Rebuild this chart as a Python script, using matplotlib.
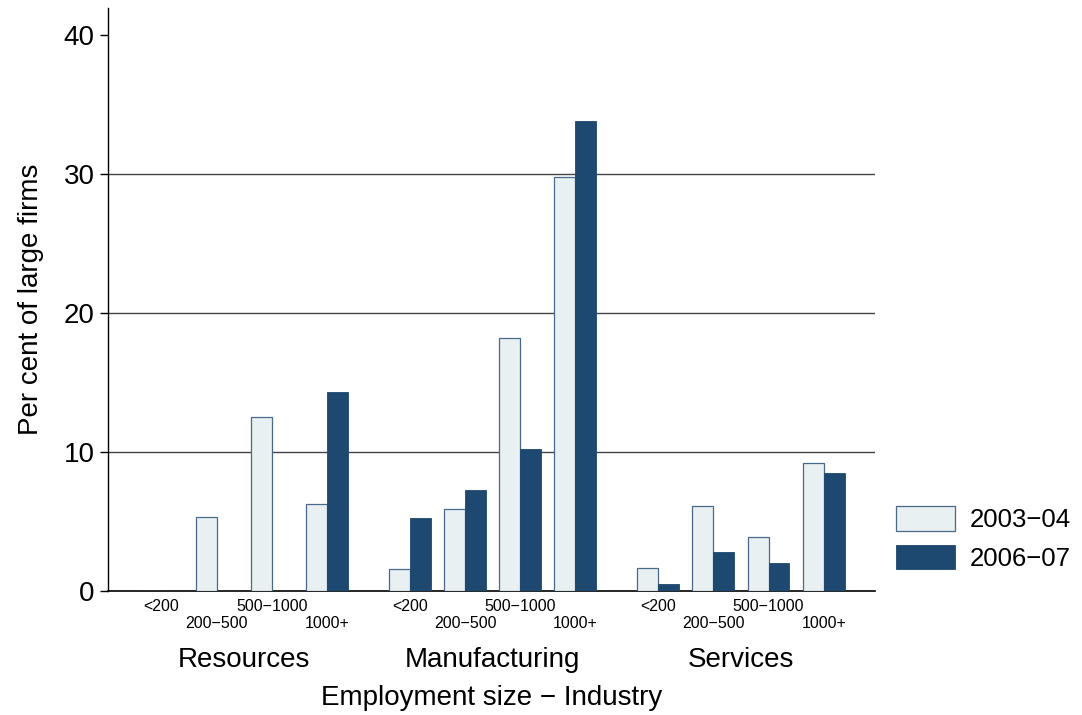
import numpy as np
import matplotlib
matplotlib.use("Agg")
import matplotlib.pyplot as plt

plt.rcParams['font.family'] = ['Liberation Sans', 'DejaVu Sans']

industries = ["Resources", "Manufacturing", "Services"]
sizes = ["<200", "200\u2212500", "500\u22121000", "1000+"]
series = ["2003\u221204", "2006\u221207"]

# per cent of large firms, one row per industry, one column per size
v2003 = np.array([[0.0, 5.3, 12.5, 6.25],
                  [1.6, 5.9, 18.2, 29.75],
                  [1.65, 6.15, 3.9, 9.2]])
v2007 = np.array([[0.0, 0.0, 0.0, 14.3],
                  [5.25, 7.25, 10.25, 33.8],
                  [0.52, 2.83, 2.04, 8.47]])

light = "#e9f0f2"
light_edge = "#47698c"
dark = "#1d4870"

fig = plt.figure(figsize=(10.82, 7.15), dpi=100)
ax = fig.add_axes([0.0998, 0.1734, 0.7089, 0.8154])

group_gap = 4.5
w = 0.38
for g in range(len(industries)):
    xs = g * group_gap + np.arange(len(sizes))
    ax.bar(xs - w / 2, v2003[g], width=w, color=light, edgecolor=light_edge,
           linewidth=0.9, zorder=3, label=series[0] if g == 0 else None)
    ax.bar(xs + w / 2, v2007[g], width=w, color=dark, edgecolor=dark,
           linewidth=0.6, zorder=3, label=series[1] if g == 0 else None)
    tr = ax.get_xaxis_transform()
    for i, s in enumerate(sizes):
        yy = -0.027 if i % 2 == 0 else -0.056
        ax.text(xs[i], yy, s, transform=tr, ha="center", va="center", fontsize=11.5)
    ax.text(xs.mean(), -0.118, industries[g], transform=tr, ha="center",
            va="center", fontsize=20)

ax.text(0.5, -0.1835, "Employment size \u2212 Industry", transform=ax.transAxes,
        ha="center", va="center", fontsize=20)

ax.set_xlim(-0.97, 2 * group_gap + 3 + 0.93)
ax.set_ylim(0, 41.94)
ax.set_yticks([0, 10, 20, 30, 40])
ax.tick_params(axis="y", labelsize=20, length=6, width=1, color="black")
ax.set_xticks([])
for y in [10, 20, 30]:
    ax.axhline(y, color="#444444", linewidth=1, zorder=1)
for s in ["top", "right"]:
    ax.spines[s].set_visible(False)
ax.spines["left"].set_linewidth(1)
ax.spines["bottom"].set_linewidth(1.2)
ax.set_ylabel("Per cent of large firms", fontsize=20, labelpad=14)

fig.legend(loc="upper left", bbox_to_anchor=(0.8165, 0.31), frameon=False,
           fontsize=18.5, handlelength=2.3, handleheight=1.1,
           labelspacing=0.48, handletextpad=0.55, borderpad=0)

fig.savefig("out.png", dpi=100)
